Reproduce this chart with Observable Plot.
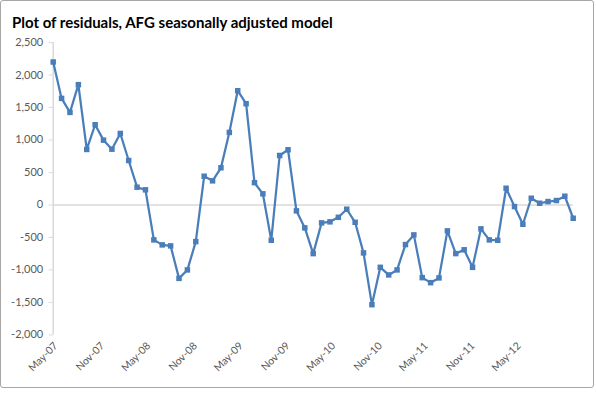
<!DOCTYPE html>
<html><head><meta charset="utf-8">
<script src="https://cdn.jsdelivr.net/npm/d3@7"></script>
<script src="https://cdn.jsdelivr.net/npm/@observablehq/plot@0.6"></script>
<style>
html,body{margin:0;padding:0;background:#fff;}
#wrap{position:relative;width:596px;height:393px;overflow:hidden;font-family:Lato,sans-serif;}
#frame{position:absolute;left:0;top:0;width:594px;height:388px;border:1px solid #a6a6a6;border-radius:3px;box-sizing:border-box;}
#title{position:absolute;left:12px;top:13px;font-weight:bold;font-size:15px;color:#000;white-space:nowrap;}
#chart{position:absolute;left:0;top:0;}
#xlabels{position:absolute;left:3px;top:3px;}
</style></head>
<body>
<div id="wrap"><div id="frame"></div><div id="title">Plot of residuals, AFG seasonally adjusted model</div><div id="chart"></div><div id="xlabels"></div></div>
<script>
const residuals = [2200,1640,1424,1851,854,1234,997,858,1100,684,273,233,-538,-615,-630,-1130,-1000,-564,442,371,572,1116,1758,1558,343,171,-544,761,849,-91,-353,-749,-276,-260,-190,-66,-267,-738,-1535,-960,-1077,-1000,-610,-461,-1119,-1196,-1123,-399,-749,-690,-960,-368,-538,-544,257,-25,-297,103,26,52,68,134,-205];
const yTicks = [-2000,-1500,-1000,-500,0,500,1000,1500,2000,2500];
const xTickLabels = ["May-07","Nov-07","May-08","Nov-08","May-09","Nov-09","May-10","Nov-10","May-11","Nov-11","May-12"];
const axisStart = "May-07", axisEnd = "Dec-12";

const data = residuals.map((v, i) => ({i, v}));
const parse = d3.utcParse("%b-%y");
const W = 596, H = 393, ML = 52.7, MR = 23.3, MT = 42, MB = 58.6;
const blue = "#4A7EBB";
const fmt = d => d.toLocaleString("en-US");

const chart = Plot.plot({
  width: W, height: H, marginLeft: ML, marginRight: MR, marginTop: MT, marginBottom: MB,
  style: {fontFamily: "Lato, sans-serif", fontSize: "11px", background: "transparent"},
  x: {type: "linear", domain: [0, residuals.length - 1], axis: null},
  y: {domain: [-2000, 2500], axis: null},
  marks: [
    Plot.ruleX([0], {stroke: "#d9d9d9", strokeWidth: 1.5}),
    Plot.ruleY([0], {stroke: "#d9d9d9", strokeWidth: 1.5}),
    Plot.axisY({ticks: yTicks, tickFormat: fmt, tickSize: 4, tickPadding: 6, stroke: "#d9d9d9", fill: "#595959", label: null, fontSize: 11}),
    Plot.line(data, {x: "i", y: "v", stroke: blue, strokeWidth: 2.25}),
    Plot.dot(data, {x: "i", y: "v", symbol: "square", r: 3.1, fill: blue, stroke: "none"})
  ]
});
document.getElementById("chart").append(chart);

const xl = Plot.plot({
  width: W, height: H, marginLeft: ML, marginRight: MR, marginTop: MT, marginBottom: MB,
  style: {fontFamily: "Lato, sans-serif", fontSize: "10.5px", background: "transparent"},
  x: {type: "utc", domain: [parse(axisStart), parse(axisEnd)], axis: null},
  y: {domain: [-2000, 2500], axis: null},
  marks: [
    Plot.axisX(xTickLabels.map(parse), {tickFormat: d3.utcFormat("%b-%y"), tickRotate: -45, tickSize: 0, tickPadding: 8, fill: "#595959", label: null, fontSize: 10.5})
  ]
});
document.getElementById("xlabels").append(xl);
</script>
</body></html>
